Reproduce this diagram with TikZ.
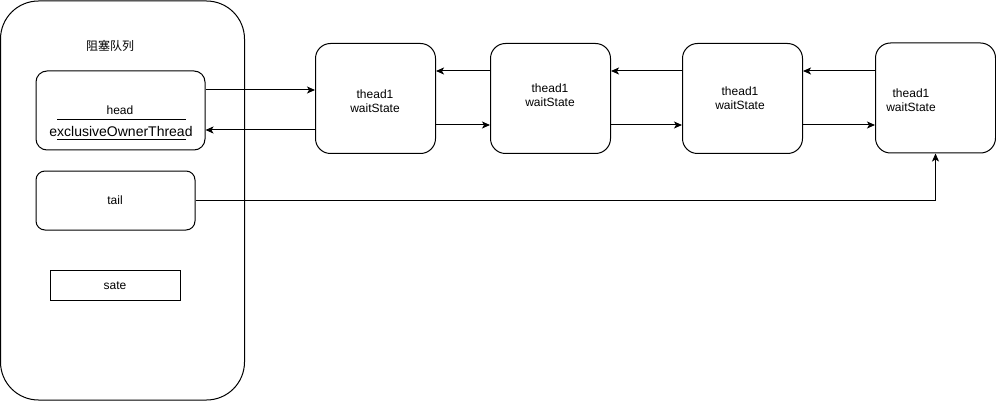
\documentclass[tikz,border=0pt]{standalone}
\usepackage{fontspec}
\setmainfont{Liberation Sans}
\newfontfamily\cjk{Noto Sans CJK SC}
\usetikzlibrary{arrows.meta}
\begin{document}
\begin{tikzpicture}[x=1pt,y=-1pt,
  box/.style={draw=black,line width=1pt,inner sep=0pt,fill=white},
  lbl/.style={inner sep=0pt,font=\fontsize{12}{14}\selectfont,align=center},
  conn/.style={draw=black,line width=1pt,-{Stealth[length=8pt,width=7pt,inset=2pt]}},
  thr/.style={box,rounded corners=15pt,minimum width=120pt,minimum height=110pt}]
\useasboundingbox (0,0) rectangle (996,401);
% container
\node[box,rounded corners=38pt,minimum width=244pt,minimum height=399pt] (cont) at (122.5,200.5) {};
\node[lbl] (title) at (110,46) {\cjk 阻塞队列};
% head box
\node[box,rounded corners=11pt,minimum width=169pt,minimum height=79pt] (head) at (120.5,110.5) {};
\node[lbl] (headt) at (120,110) {head};
\node[lbl,font=\fontsize{14}{16}\selectfont] (eot) at (121,131) {exclusiveOwnerThread};
\draw[line width=1pt] (57,120) -- (186,120);
\draw[line width=1pt] (57,140) -- (186,140);
% tail
\node[box,rounded corners=9pt,minimum width=159pt,minimum height=59pt] (tail) at (115.5,200.5) {};
\node[lbl] (tailt) at (115,200) {tail};
% sate
\node[box,minimum width=130pt,minimum height=30pt] (sate) at (115,285) {};
\node[lbl] (satet) at (115,286) {sate};
% thread nodes
\node[thr] (n1) at (375.5,98.5) {};
\node[thr] (n2) at (550.5,98.5) {};
\node[thr] (n3) at (742.5,98.5) {};
\node[thr] (n4) at (935.5,98) {};
\node[lbl] at (375,101) {thead1\\waitState};
\node[lbl] at (550,95) {thead1\\waitState};
\node[lbl] at (740,98) {thead1\\waitState};
\node[lbl] at (911,100) {thead1\\waitState};
% connectors
\draw[conn] (head.east |- 0,90) -- (n1.west |- 0,90);
\draw[conn] (n1.west |- 0,130) -- (head.east |- 0,130);
\draw[conn] (n1.east |- 0,125) -- (n2.west |- 0,125);
\draw[conn] (n2.west |- 0,71) -- (n1.east |- 0,71);
\draw[conn] (n2.east |- 0,125) -- (n3.west |- 0,125);
\draw[conn] (n3.west |- 0,71) -- (n2.east |- 0,71);
\draw[conn] (n3.east |- 0,125) -- (n4.west |- 0,125);
\draw[conn] (n4.west |- 0,71) -- (n3.east |- 0,71);
\draw[conn] (tail.east) -- (n4.south |- tail.east) -- (n4.south);
\end{tikzpicture}
\end{document}
